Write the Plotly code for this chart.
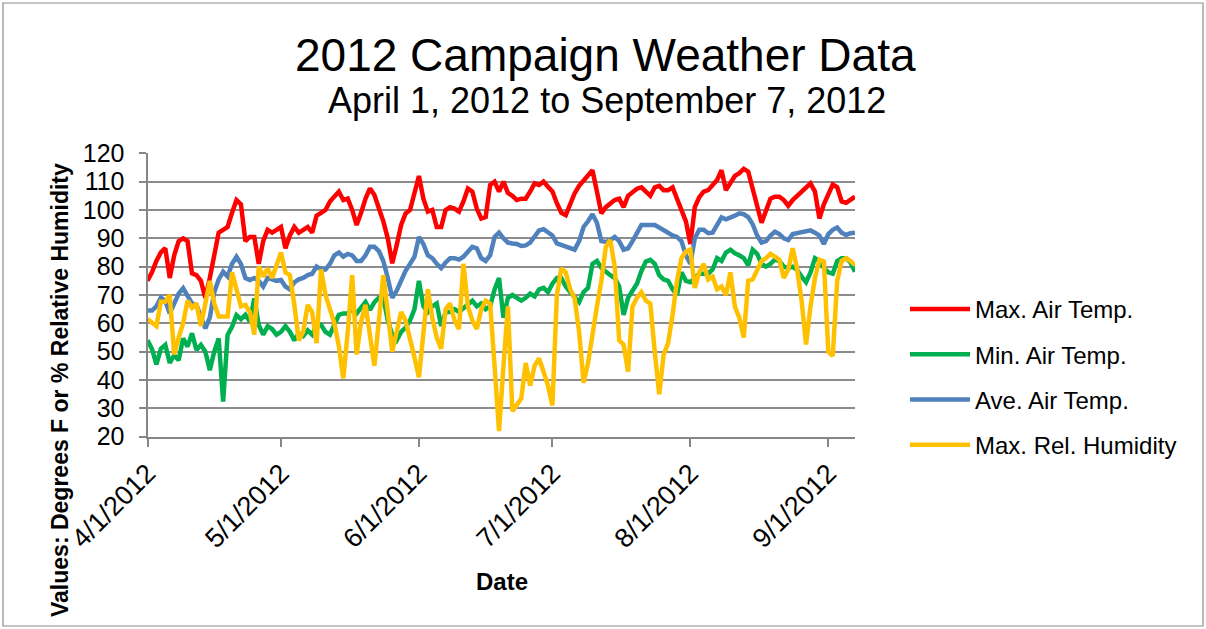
import pandas as pd
import plotly.graph_objects as go

dates = pd.date_range("2012-04-01", "2012-09-07", freq="D")

max_air = [
    75, 78, 82, 85, 86.5, 76, 84, 89, 90, 89,
    77.6, 77, 75, 69, 76, 85, 92, 93, 94, 99,
    103.5, 102, 89, 90.5, 90.5, 81, 89, 93, 92, 93,
    94, 86.5, 91, 94, 92, 93, 94, 92, 98, 99,
    100, 103, 105, 106.5, 103.5, 104, 100, 94.7, 99, 104,
    107.6, 105.3, 100.6, 96, 90, 81.2, 87.6, 94.7, 98.8, 100,
    106, 112, 104, 99.4, 100, 94, 94, 100, 101, 100.5,
    99.4, 103, 107.6, 106.5, 100.5, 97, 97.5, 108.8, 110, 106.5,
    110, 106, 105, 103.5, 104, 104, 106.5, 109.4, 108.8, 110,
    108.2, 106.5, 102.4, 99, 98.2, 101.8, 105.9, 108.5, 110.5, 112,
    114, 106.5, 98.8, 101, 102.4, 103.5, 104, 101, 105, 106.5,
    107.5, 108, 106.5, 105, 108, 108.5, 107, 107, 108, 104,
    100.5, 96, 88, 101, 104.5, 106.5, 107, 109, 110.6, 114,
    107, 109.5, 112, 113, 114.5, 113.5, 108, 101.5, 95.5, 100,
    104, 104.7, 104.7, 103.5, 101.5, 103.5, 105, 106.5, 108, 109.4,
    106.5, 97, 102, 106, 109, 108, 103, 102.5, 103.5, 104.7,
]

min_air = [
    54, 51, 45.5, 51, 52.4, 46, 48.8, 47, 54.7, 51.8,
    56.5, 50.6, 52.4, 50, 43.5, 50, 54.7, 32.4, 55.9, 58.8,
    62.9, 61.5, 63, 60.6, 68.8, 59.4,
    56, 59, 58, 56, 57, 59, 57, 54, 56.5, 55.5,
    57.5, 56, 59.5, 59.5, 57, 56, 59.5, 63, 63.5, 63.5,
    65, 63.5, 65.5, 67.5, 64.7, 67.5, 69, 69,
    61, 56, 54, 57, 58.5, 61, 65, 75, 66, 64,
    66, 67, 59, 64, 64, 65, 64, 65.5, 67, 68,
    66, 67, 65, 66, 72, 76,
    62, 69, 70, 69, 68, 69, 70.5, 69.5, 72, 72.5,
    71, 74, 76, 76, 73, 71, 69, 67.5, 71, 72.5,
    81, 82, 79.5, 78, 77, 76, 73,
    63, 69, 71.5, 74, 78.5, 81.8, 82.4, 81, 77, 75.5,
    75, 72, 70, 78, 75, 74.5, 76, 77.5, 77.5, 77.5,
    79, 83, 82, 85, 86, 84.7, 84,
    83, 80.5, 86, 84.5, 81, 80, 81, 82.5, 82, 80,
    79.5, 80, 78.8, 76.5, 74.5, 78, 83, 82, 79.5, 78,
    77.5, 82, 83, 83, 81.5, 78.2,
]

ave_air = [
    64.5, 64.5, 66, 69, 68, 63.5, 67, 70.5, 72.4, 70,
    67, 66.5, 62, 58.2, 62, 71, 75.5, 78.2, 76.5, 81,
    83.5, 81, 76, 75.3, 76, 75,
    73, 76, 75.5, 75, 75.3, 73, 72, 74.5, 75.5, 76,
    77, 77.5, 80, 79, 79, 81, 84, 85, 83.5, 84.5,
    84, 82, 82, 84, 87, 87, 85.5, 82,
    76, 69, 71.5, 75, 78.5, 81, 83.5, 90.5, 88, 84,
    83, 81, 79.5, 81.5, 83, 83, 82.5, 83.5, 85, 87,
    86.5, 83, 82, 84, 90.5, 92,
    90, 88.5, 88.2, 88, 87.3, 87.5, 88.5, 90.5, 92.8, 93.2,
    92, 91, 88.2, 87.7, 87.2, 86.5, 86, 89, 94, 96,
    98.5, 95.5, 89, 88.7, 89.3, 90.5, 89,
    86, 86.5, 89, 91.5, 94.7, 94.7, 94.7, 94.7, 93.8, 92.8,
    92, 91, 90.5, 89, 84, 81, 90, 93, 93, 91.8,
    92, 94.7, 97.4, 96.7, 97.2, 98, 98.8,
    98.5, 97.5, 95, 91, 88.5, 89, 91, 92.3, 91.5, 90,
    89.4, 91.5, 91.8, 92.2, 92.8, 92.8, 92, 91, 88, 91.5,
    93, 93.8, 92, 91.2, 91.8, 92,
]

max_rh = [
    61.5, 60, 59, 67.6, 67.6, 70, 49, 55, 60, 68,
    65.5, 67, 59, 67, 75, 67, 62.4, 62.4, 62.4, 78,
    72, 66, 66.5, 64, 56, 80,
    76.5, 79.4, 76, 81, 85, 78, 77, 66.5, 54, 57,
    66.5, 64, 53, 79, 70, 65, 60, 52, 40.6, 57,
    77, 49, 60.6, 66.5, 56, 45, 61, 77,
    64, 50, 57, 64, 61, 55, 48, 41, 57, 72,
    62, 55, 51, 65, 67, 61, 58, 81, 66, 61,
    58, 65, 68, 67, 45, 22,
    45, 66, 29, 31, 33.5, 46, 38, 45, 47.6, 43,
    38, 31, 70, 79.4, 78, 72, 68.8, 57, 39, 46,
    57, 66, 75, 87, 89.4, 80, 54,
    52.5, 43, 66, 69, 71, 68, 67, 50, 35, 49,
    53, 63, 75, 83, 85.3, 86, 72.5, 78, 81, 75.5,
    76.5, 72, 73, 70, 78, 66, 62,
    55, 75, 75.5, 79, 82, 83, 84.5, 83.5, 82.4, 76,
    79, 86.5, 79, 68, 52.5, 66, 76, 82.4, 81.8, 50,
    48.5, 75, 82, 83, 82, 80.5,
]

series_names = ["Max. Air Temp.", "Min. Air Temp.", "Ave. Air Temp.", "Max. Rel. Humidity"]
series_values = [max_air, min_air, ave_air, max_rh]
series_colors = ["#FF0000", "#00B050", "#4F81BD", "#FFC000"]

tick_dates = ["2012-04-01", "2012-05-01", "2012-06-01", "2012-07-01", "2012-08-01", "2012-09-01"]
tick_labels = ["4/1/2012", "5/1/2012", "6/1/2012", "7/1/2012", "8/1/2012", "9/1/2012"]
y_ticks = list(range(20, 121, 10))

W, H = 1206, 629
FONT = "Liberation Sans, Arial, sans-serif"

fig = go.Figure()
for name, vals, col in zip(series_names, series_values, series_colors):
    fig.add_trace(go.Scatter(
        x=dates, y=vals, mode="lines", name=name, legendgroup=name,
        line=dict(color=col, width=4.5),
    ))

px0, px1 = 147.5, 855
py_top, py_bot = 153.3, 436.7

fig.update_layout(
    width=W, height=H,
    margin=dict(l=0, r=0, t=0, b=0),
    paper_bgcolor="white", plot_bgcolor="white",
    font=dict(family=FONT, color="black"),
    showlegend=True,
    legend=dict(
        x=905 / W, y=1 - 287 / H, xanchor="left", yanchor="top",
        font=dict(size=24, family=FONT, color="black"),
        traceorder="grouped", tracegroupgap=11,
        itemwidth=60, bgcolor="rgba(0,0,0,0)",
    ),
    xaxis=dict(
        domain=[px0 / W, px1 / W],
        type="date",
        range=["2012-04-01", "2012-09-07"],
        tickvals=tick_dates, ticktext=tick_labels,
        tickangle=-45,
        tickfont=dict(size=27, family=FONT, color="black"),
        ticks="outside", ticklen=8, tickwidth=1.5, tickcolor="#868686",
        showline=True, linecolor="#868686", linewidth=2,
        showgrid=False, zeroline=False, automargin=False,
    ),
    yaxis=dict(
        domain=[1 - py_bot / H, 1 - py_top / H],
        range=[20, 120],
        tickvals=y_ticks,
        tickfont=dict(size=25, family=FONT, color="black"),
        ticks="outside", ticklen=7, tickwidth=1.5, tickcolor="#868686",
        ticklabelstandoff=9,
        showline=True, linecolor="#868686", linewidth=2,
        showgrid=True, gridcolor="#8C8C8C", gridwidth=1.6,
        zeroline=False, automargin=False,
    ),
    shapes=[
        dict(type="rect", xref="paper", yref="paper",
             x0=3 / W, x1=1203 / W, y0=1 - 626 / H, y1=1 - 3 / H,
             line=dict(color="#8C8C8C", width=1.2), fillcolor="rgba(0,0,0,0)", layer="below"),
    ],
    annotations=[
        dict(text="2012 Campaign Weather Data", x=605 / W, y=1 - 55 / H,
             xref="paper", yref="paper", showarrow=False,
             xanchor="center", yanchor="middle",
             font=dict(size=46, family=FONT, color="black")),
        dict(text="April 1, 2012 to September 7, 2012", x=607 / W, y=1 - 100 / H,
             xref="paper", yref="paper", showarrow=False,
             xanchor="center", yanchor="middle",
             font=dict(size=36, family=FONT, color="black")),
        dict(text="<b>Values: Degrees F or % Relative Humidity</b>", x=60 / W, y=1 - 390 / H,
             xref="paper", yref="paper", showarrow=False, textangle=-90,
             xanchor="center", yanchor="middle",
             font=dict(size=23, family=FONT, color="black")),
        dict(text="<b>Date</b>", x=502 / W, y=1 - 581 / H,
             xref="paper", yref="paper", showarrow=False,
             xanchor="center", yanchor="middle",
             font=dict(size=24, family=FONT, color="black")),
    ],
)

fig.write_html("out.html")
